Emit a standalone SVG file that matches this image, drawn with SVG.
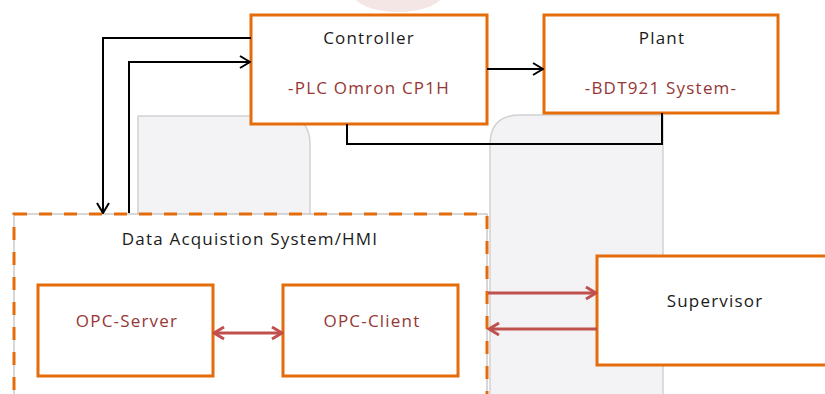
<svg xmlns="http://www.w3.org/2000/svg" width="825" height="394" viewBox="0 0 825 394">
  <defs>
    <style>
      .box { fill: #ffffff; stroke: #E46C0A; stroke-width: 3; }
      .bg { fill: #F3F3F6; stroke: #D2D2D4; stroke-width: 1.5; }
      .t { font-family: "Open Sans", "Noto Sans", sans-serif; font-size: 17px; text-anchor: middle; fill: #1a1a1a; letter-spacing: 1.2px; }
      .r { fill: #953735; }
      .blk { fill: none; stroke: #000; stroke-width: 2; }
      .red { fill: none; stroke: #C0504D; stroke-width: 3; }
    </style>
    <marker id="ab" viewBox="0 0 12 14" refX="11" refY="7" markerWidth="12" markerHeight="14" orient="auto" markerUnits="userSpaceOnUse">
      <path d="M1,1 L11,7 L1,13" fill="none" stroke="#000" stroke-width="2"/>
    </marker>
    <marker id="ar" viewBox="0 0 14 16" refX="12" refY="8" markerWidth="14" markerHeight="16" orient="auto-start-reverse" markerUnits="userSpaceOnUse">
      <path d="M2,2 L12,8 L2,14" fill="none" stroke="#C0504D" stroke-width="3"/>
    </marker>
  </defs>

  <rect width="825" height="394" fill="#ffffff"/>

  <g id="background">
    <ellipse cx="398" cy="-8" rx="46" ry="20" fill="#F5E6E6"/>
    <path class="bg" d="M138,400 V116 H282 Q310,116 310,144 V400"/>
    <path class="bg" d="M490,400 V145 Q490,115 520,115 H663 V400"/>
  </g>

  <g id="daq">
    <rect x="14" y="214" width="473" height="190" fill="#ffffff" stroke="#B0B0B0" stroke-width="1"/>
    <rect x="14" y="214" width="473" height="190" fill="none" stroke="#E46C0A" stroke-width="3" stroke-dasharray="13 12"/>
    <text class="t" x="250" y="245">Data Acquistion System/HMI</text>
  </g>

  <g id="controller">
    <rect class="box" x="251" y="15" width="236" height="109"/>
    <text class="t" x="369" y="44">Controller</text>
    <text class="t r" x="369" y="94">-PLC Omron CP1H</text>
  </g>

  <g id="plant">
    <rect class="box" x="544" y="15" width="234" height="98"/>
    <text class="t" x="662" y="44">Plant</text>
    <text class="t r" x="661" y="94">-BDT921 System-</text>
  </g>

  <g id="opc-server">
    <rect class="box" x="38" y="285" width="175" height="91"/>
    <text class="t r" x="127" y="327">OPC-Server</text>
  </g>

  <g id="opc-client">
    <rect class="box" x="283" y="285" width="175" height="91"/>
    <text class="t r" x="372" y="327">OPC-Client</text>
  </g>

  <g id="supervisor">
    <rect class="box" x="597" y="256" width="236" height="109"/>
    <text class="t" x="715" y="307">Supervisor</text>
  </g>

  <g id="connectors">
    <path class="blk" d="M487,69 H543" marker-end="url(#ab)"/>
    <path class="blk" d="M347,124 V144 H662 V113"/>
    <path class="blk" d="M251,38 H103 V213" marker-end="url(#ab)"/>
    <path class="blk" d="M129,213 V62 H250" marker-end="url(#ab)"/>
    <path class="red" d="M214,333 H282" marker-start="url(#ar)" marker-end="url(#ar)"/>
    <path class="red" d="M488,293 H596" marker-end="url(#ar)"/>
    <path class="red" d="M597,329 H489" marker-end="url(#ar)"/>
  </g>
</svg>
